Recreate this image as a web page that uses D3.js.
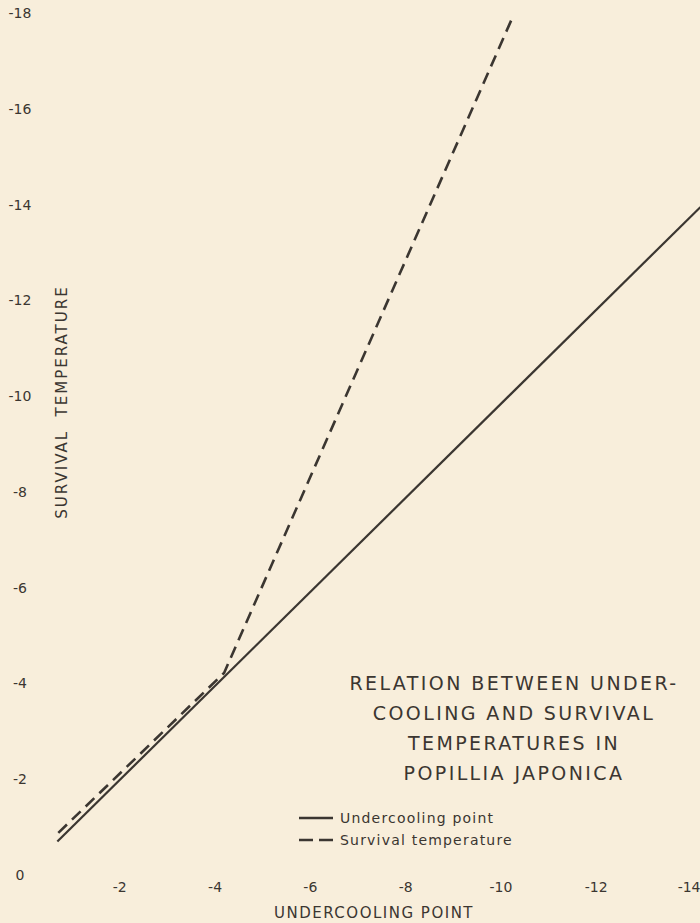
<!DOCTYPE html>
<html>
<head>
<meta charset="utf-8">
<script src="https://cdn.jsdelivr.net/npm/d3@7"></script>
<style>
  body { margin: 0; background: #f8eedb; }
  svg { display: block; }
  text { font-family: 'DejaVu Sans', sans-serif; fill: #3b3631; }
</style>
</head>
<body>
<div id="chart"></div>
<script>
// data
var xTicks = [-2, -4, -6, -8, -10, -12, -14];
var yTicks = [0, -2, -4, -6, -8, -10, -12, -14, -16, -18];
var undercoolingX = [-0.7, -14.2];
var undercoolingY = [-0.7, -13.95];
var survivalX = [-0.72, -4.2, -10.25];
var survivalY = [-0.88, -4.22, -17.9];
var titleLines = ['RELATION BETWEEN UNDER-', 'COOLING AND SURVIVAL', 'TEMPERATURES IN', 'POPILLIA JAPONICA'];
var legendItems = [
  { name: 'Undercooling point', dash: null },
  { name: 'Survival temperature', dash: '14,6' }
];

var width = 700, height = 923;
var ink = '#3b3631';

var svg = d3.select('#chart').append('svg')
  .attr('width', width)
  .attr('height', height);

svg.append('rect')
  .attr('width', width)
  .attr('height', height)
  .attr('fill', '#f8eedb');

// scales
var x = d3.scaleLinear().domain([0, -14]).range([24, 691]);
var y = d3.scaleLinear().domain([0, -18]).range([875, 13]);

// x axis, no rule, just the numbers
var xAxis = svg.append('g')
  .attr('transform', 'translate(0,882)')
  .call(d3.axisBottom(x).tickValues(xTicks).tickSize(0).tickFormat(function(d) { return String(d); }));
xAxis.select('.domain').remove();
xAxis.selectAll('text')
  .attr('y', 0)
  .attr('dy', '0.71em')
  .style('font-size', '14px')
  .style('font-family', "'DejaVu Sans', sans-serif")
  .attr('fill', ink);
// last label sits flush with the right edge
xAxis.selectAll('text')
  .filter(function(d) { return d === -14; })
  .attr('text-anchor', 'end')
  .attr('x', 9);

// y axis
var yAxis = svg.append('g')
  .attr('transform', 'translate(20,0)')
  .call(d3.axisLeft(y).tickValues(yTicks).tickSize(0).tickFormat(function(d) { return String(d); }));
yAxis.select('.domain').remove();
yAxis.selectAll('text')
  .attr('x', 0)
  .attr('text-anchor', 'middle')
  .style('font-size', '14px')
  .style('font-family', "'DejaVu Sans', sans-serif")
  .attr('fill', ink);

// axis titles
svg.append('text')
  .attr('x', 374)
  .attr('y', 918)
  .attr('text-anchor', 'middle')
  .style('font-size', '15px')
  .style('letter-spacing', '1.5px')
  .text('UNDERCOOLING POINT');

svg.append('text')
  .attr('transform', 'translate(67,402) rotate(-90)')
  .attr('text-anchor', 'middle')
  .style('font-size', '15px')
  .style('letter-spacing', '2px')
  .attr('xml:space', 'preserve')
  .text('SURVIVAL  TEMPERATURE');

// lines
var line = d3.line()
  .x(function(d) { return x(d[0]); })
  .y(function(d) { return y(d[1]); });

svg.append('path')
  .datum(d3.zip(undercoolingX, undercoolingY))
  .attr('d', line)
  .attr('fill', 'none')
  .attr('stroke', ink)
  .attr('stroke-width', 2.2);

svg.append('path')
  .datum(d3.zip(survivalX, survivalY))
  .attr('d', line)
  .attr('fill', 'none')
  .attr('stroke', ink)
  .attr('stroke-width', 2.6)
  .attr('stroke-dasharray', '12,7');

// title block
svg.append('g')
  .selectAll('text')
  .data(titleLines)
  .enter()
  .append('text')
  .attr('x', 514)
  .attr('y', function(d, i) { return 690 + i * 30; })
  .attr('text-anchor', 'middle')
  .style('font-size', '19px')
  .style('letter-spacing', '2.4px')
  .text(function(d) { return d; });

// legend
var legend = svg.append('g')
  .selectAll('g')
  .data(legendItems)
  .enter()
  .append('g')
  .attr('transform', function(d, i) { return 'translate(299,' + (818 + i * 22) + ')'; });

legend.append('line')
  .attr('x1', 0)
  .attr('x2', 34)
  .attr('stroke', ink)
  .attr('stroke-width', 2.6)
  .attr('stroke-dasharray', function(d) { return d.dash; });

legend.append('text')
  .attr('x', 41)
  .attr('dy', '0.35em')
  .style('font-size', '14px')
  .style('letter-spacing', '1.2px')
  .text(function(d) { return d.name; });
</script>
</body>
</html>
